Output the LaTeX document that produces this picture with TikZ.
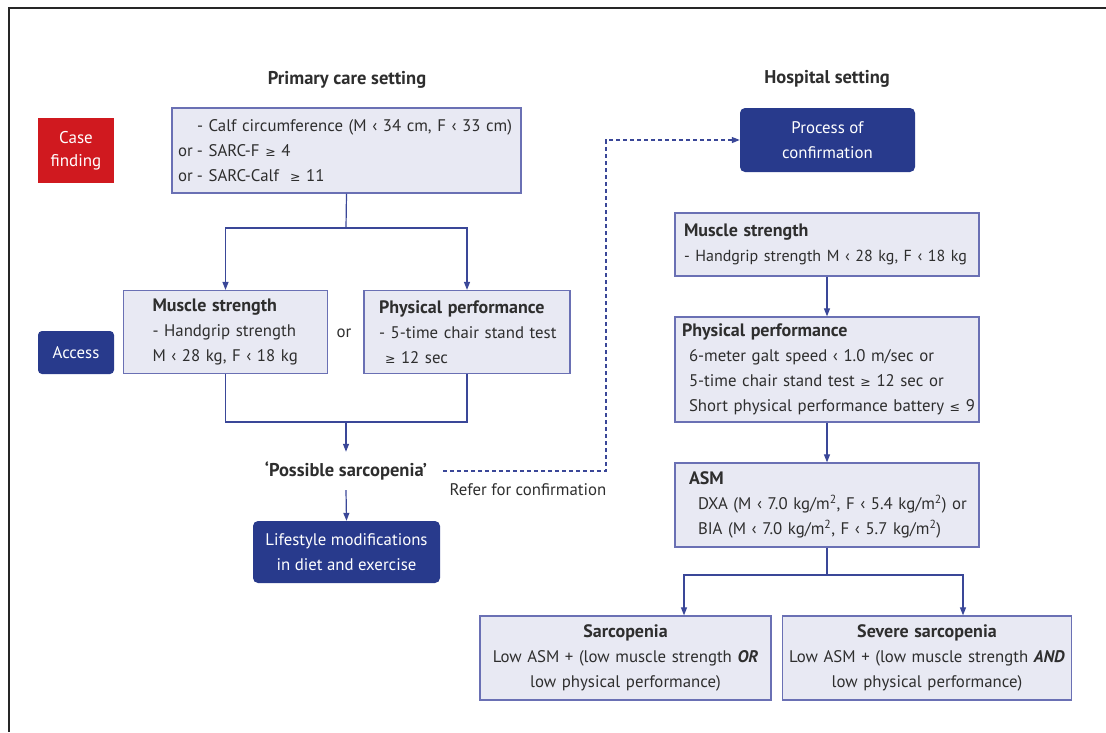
\documentclass[tikz,border=0pt]{standalone}
\usepackage{fontspec}
\setmainfont{PT Sans}
\newfontfamily\symfont{DejaVu Sans}
\usetikzlibrary{arrows.meta,positioning}
\definecolor{boxfill}{HTML}{E8E9F3}
\definecolor{boxline}{HTML}{6A70B4}
\definecolor{navyplot}{HTML}{283A8C}
\definecolor{linkblue}{HTML}{3A4798}
\definecolor{casered}{HTML}{D0191F}
\definecolor{textgray}{HTML}{2E2E2E}
\newcommand{\gesym}{{\symfont\fontsize{12.5}{12}\selectfont ≥}}
\newcommand{\lesym}{{\symfont\fontsize{12.5}{12}\selectfont ≤}}
\newcommand{\headtxt}[1]{{\fontsize{18}{24.5}\selectfont\bfseries #1}}

\tikzset{
  infobox/.style={draw=boxline,fill=boxfill,line width=1.3pt,inner ysep=0pt},
  darkbox/.style={fill=navyplot,rounded corners=5pt,text=white,align=center,inner sep=0pt},
  titletxt/.style={font=\bfseries\fontsize{18.5}{22}\selectfont},
  conn/.style={draw=linkblue,line width=1.2pt},
  arr/.style={conn,-{Triangle[length=8pt,width=6pt]}}
}

\begin{document}
\begin{tikzpicture}[x=1pt,y=-1pt,text=textgray,font=\fontsize{16.8}{24.8}\selectfont]
\useasboundingbox (0,0) rectangle (1106,732);
\draw[line width=2pt,black!85] (1106,8) -- (9,8) -- (9,732);
% titles
\node[titletxt] (primtitle) at (347,80) {Primary care setting};
\node[titletxt] (hosptitle) at (827,79) {Hospital setting};
% primary care column
\node[fill=casered,text=white,minimum width=76pt,minimum height=65pt,inner sep=0pt,align=center,font=\fontsize{17}{23}\selectfont] (casefind) at (76,150.5) {Case\\finding};
\node[infobox,minimum width=349pt,minimum height=85pt,text width=341pt,inner xsep=4pt,align=left] (calf) at (346.5,150.5)
  {\hspace*{21pt}- Calf circumference (M ‹ 34 cm, F ‹ 33 cm)\\\makebox[21pt][l]{\hspace*{2pt}or}- SARC-F \gesym{} 4\\\makebox[21pt][l]{\hspace*{2pt}or}- SARC-Calf \ \gesym{} 11};
\node[darkbox,minimum width=76pt,minimum height=43pt,rounded corners=4pt] (access) at (76,352.5) {Access};
\node[infobox,minimum width=204pt,minimum height=83pt,text width=186pt,inner xsep=9pt,align=left] (musA) at (225.5,332)
  {\hspace*{20pt}\headtxt{Muscle strength}\\\hspace*{20pt}- Handgrip strength\\\hspace*{20pt}M ‹ 28 kg, F ‹ 18 kg};
\node (ortag) at (344,333) {or};
\node[infobox,minimum width=206pt,minimum height=83pt,text width=196pt,inner xsep=5pt,align=left] (phyA) at (467,332)
  {\hspace*{10pt}\headtxt{Physical performance}\\\hspace*{10pt}- 5-time chair stand test\\\hspace*{16pt}\gesym{} 12 sec};
\node[titletxt,minimum height=38pt,inner sep=0pt] (possible) at (346,471) {‘Possible sarcopenia’};
\node[darkbox,minimum width=187pt,minimum height=62pt] (life) at (346.5,552) {Lifestyle modifications\\in diet and exercise};
\node (refer) at (528,490) {Refer for confirmation};
% hospital column
\node[darkbox,minimum width=175pt,minimum height=64pt] (process) at (827.5,140) {Process of\\confirmation};
\node[infobox,minimum width=304pt,minimum height=63pt,text width=302pt,inner xsep=1pt,align=left] (musB) at (827,244.5)
  {\hspace*{8pt}\headtxt{Muscle strength}\\\hspace*{8pt}\mbox{\fontsize{16}{24.8}\selectfont- Handgrip strength M ‹ 28 kg, F ‹ 18 kg}};
\node[infobox,minimum width=304pt,minimum height=105pt,text width=298pt,inner xsep=3pt,align=left] (phyB) at (827,369.5)
  {\hspace*{4pt}\headtxt{Physical performance}\\\hspace*{11pt}6-meter galt speed ‹ 1.0 m/sec or\\\hspace*{11pt}5-time chair stand test \gesym{} 12 sec or\\\hspace*{11pt}Short physical performance battery \lesym{} 9};
\node[infobox,minimum width=304pt,minimum height=84pt,text width=298pt,inner xsep=3pt,align=left] (asm) at (827,505)
  {\hspace*{11pt}\headtxt{ASM}\\\hspace*{20pt}DXA (M ‹ 7.0 kg/m\textsuperscript{2}, F ‹ 5.4 kg/m\textsuperscript{2}) or\\\hspace*{20pt}BIA (M ‹ 7.0 kg/m\textsuperscript{2}, F ‹ 5.7 kg/m\textsuperscript{2})};
\node[infobox,minimum width=291pt,minimum height=84pt,text width=287pt,inner xsep=2pt,align=center] (sarc) at (625.5,658)
  {\headtxt{Sarcopenia}\\Low ASM + (low muscle strength \textbf{\textit{OR}}\\low physical performance)};
\node[infobox,minimum width=289pt,minimum height=84pt,text width=285pt,inner xsep=2pt,align=center] (severe) at (927,658)
  {\headtxt{Severe sarcopenia}\\Low ASM + (low muscle strength \textbf{\textit{AND}}\\low physical performance)};
% connectors
\coordinate (splitA) at (346,228);
\coordinate (mergeA) at (346,422);
\coordinate (refbend) at (606,471);
\coordinate (splitB) at (827,575);
\draw[conn] (calf.south) -- (splitA);
\draw[arr] (splitA) -| (musA.north);
\draw[arr] (splitA) -| (phyA.north);
\draw[conn] (musA.south) |- (mergeA);
\draw[conn] (phyA.south) |- (mergeA);
\draw[arr] (mergeA) -- (possible.north);
\draw[arr] (possible.south) -- (life.north);
\draw[conn,dash pattern=on 4pt off 3pt,-{Triangle[length=8pt,width=6pt]}] (possible.east) ++(16,0) -- (refbend) |- (process.west);
\draw[arr] (musB.south) -- (phyB.north);
\draw[arr] (phyB.south) -- (asm.north);
\draw[conn] (asm.south) -- (splitB);
\draw[arr] (splitB) -| ([xshift=58.5pt]sarc.north);
\draw[arr] (splitB) -| ([xshift=36pt]severe.north);
\end{tikzpicture}
\end{document}
